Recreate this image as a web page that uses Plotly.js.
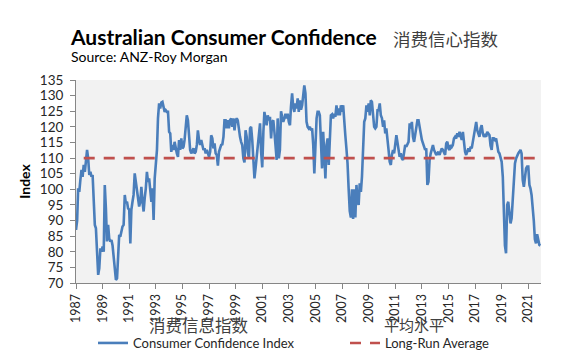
<!DOCTYPE html>
<html><head><meta charset="utf-8">
<script src="https://cdn.plot.ly/plotly-3.0.1.min.js"></script>
<style>html,body{margin:0;padding:0;background:#fff}#chart{width:566px;height:356px}</style>
</head><body><div id="chart"></div>
<script>
// ---- text ----
const titleEn = 'Australian Consumer Confidence';
const titleZh = '消费信心指数';
const sourceText = 'Source: ANZ-Roy Morgan';
const yAxisTitle = 'Index';
const seriesName = 'Consumer Confidence Index';
const seriesNameZh = '消费信息指数';
const averageName = 'Long-Run Average';
const averageNameZh = '平均水平';

// ---- data: monthly index, starting January 1987 ----
const firstYear = 1987;
const cci_1987_1993 = [87,90,100.3,99.2,103,106.2,104,107.8,105.6,109.4,112.6,109.9,
  104.6,105.6,104,104.6,95,88.6,87.5,79,72.6,74.7,81.1,80.1,
  81.7,80,101.4,93.9,83.3,88.6,84.3,83.3,83.8,82,78,73,
  71,71.5,77.9,85.4,84.8,87,88.1,88.6,98.2,95.5,96,93.9,
  93.5,82.7,93.4,96,98.2,105.1,102.4,99.2,97.1,94.5,96,100.8,
  96,92.9,97.1,100.3,105.6,102.4,103.5,99.8,96,100.3,90.2,103.5,
  108.8,112.6,122.7,127.5,125.9,127.8,128,126.4,124.8,125.3,124.8,124.8];
const cci_1994_2000 = [118.4,117.9,112,114.2,112.6,115.2,113.1,111.5,110.4,115.8,112.6,116.3,
  113.1,113.6,115.8,121,123.7,122.1,116,112.6,111.5,112.6,113.1,111.5,
  112,114.2,118.9,115.8,114.2,115.8,114.2,112.6,113.1,111.5,112.6,111.5,
  110.4,112,117.3,116.3,113.1,114.7,111.5,111,107.6,112,113.6,114.2,
  114.4,116.8,122.1,122.1,119.5,122.1,119.5,122.1,122.7,120,122.7,118.9,
  122.1,122.7,122.1,118.4,116.8,115.2,114.2,109.9,108.6,118.9,116.8,112,
  109.9,119.5,120,115.8,109.9,103.5,106.7,109.9,113.1,118,121.1,112];
const cci_2001_2007 = [107,118.4,124.8,122.7,120.5,123.7,122.1,123.2,116.3,121.6,122.1,118.4,
  114.2,109.4,122.7,109.9,112.6,125,123.2,121.6,122.7,124.2,122.7,124.2,
  121.6,120.5,126.5,130.7,126.4,124.8,127.5,125.9,129.1,124.8,128.5,125.5,
  126.9,130.7,133.3,130.7,121.6,120,119.5,120,118.9,119.5,114.2,105.1,
  114.2,122.7,124.8,124.8,123.7,117,106.7,118.4,108.8,103.5,114.2,116.3,
  107.8,114.7,123.7,124,122.7,124.2,123.2,126.9,123.7,125.9,123.7,126.9,
  124.8,126.9,121,117.3,113.1,108.3,100.3,93,91,100,90.5,100];
const cci_2008_2014 = [91,101.4,96,95,101.9,99.2,104,116.3,121.6,122.7,126.9,124.8,
  127.5,123.7,128.5,128,123.7,120,119.5,120,125.3,125.3,127.5,123.7,
  122.7,120,122.1,117.9,119.5,116.8,112.6,108.8,107.8,111,112.6,111.5,
  114.2,117.3,115.2,112.6,110.4,111.5,109.9,109.4,113.1,114.2,113.6,114.7,
  115.2,121.1,119.5,121.6,116.8,115.2,117.3,120,122.1,122.1,120.5,117.9,
  115.8,114.7,113.1,112.6,113.1,101.4,102.4,109.4,111.5,112.6,114.2,112.6,
  111.5,111,111.5,112,111,112.6,113.1,112.6,112,111,114.7,115.2];
const cci_2015_2021 = [113.1,112.6,114.2,113.6,114.2,116.3,116.8,116.3,117.9,116.8,118.4,117.3,
  115.8,118.4,114,112,111,112.6,113.1,112,113.6,113.1,115.2,116.8,
  119.5,121.6,118.9,117.3,116.8,119.5,120.5,117.9,116.8,117.3,116.8,118.4,
  117.9,117.3,114,112.6,116.3,116.3,115.8,116.3,114.2,112,111.5,110.4,
  108.8,104,93,82,79.5,95,96,92.9,89.1,90.7,98,103,
  108.3,109.9,111,111.5,112,112.6,111.5,103,100.8,103,106.7,107.3,
  107.3,101.4,100.3,98.2,94.5,90,84,82.7,85.6,83.3,82.2,82];
const longRunAverage = [110, 110];
const averageDates = ['1987-08-01', '2021-08-01'];
const yTicks = [70,75,80,85,90,95,100,105,110,115,120,125,130,135];
const xTickYears = [1987,1989,1991,1993,1995,1997,1999,2001,2003,2005,2007,2009,2011,2013,2015,2017,2019,2021];

// ---- build ----
const cci = [].concat(cci_1987_1993, cci_1994_2000, cci_2001_2007, cci_2008_2014, cci_2015_2021);
const months = cci.map((_, i) => {
  const y = firstYear + Math.floor(i / 12), m = (i % 12) + 1;
  return y + '-' + String(m).padStart(2, '0') + '-01';
});

const W = 566, H = 356;
const M = {l: 76, r: 25, t: 80, b: 73, autoexpand: false};
const PW = W - M.l - M.r, PH = H - M.t - M.b;
const px = x => (x - M.l) / PW;          // pixel -> paper x
const py = y => (H - M.b - y) / PH;      // pixel -> paper y
const FONT = 'Lato, "Liberation Sans", sans-serif';
const CJK = '"Noto Sans CJK SC", sans-serif';

const traces = [
  {x: months, y: cci, name: seriesName, type: 'scatter', mode: 'lines', legend: 'legend',
   line: {color: '#4a7ebb', width: 2.6}, hoverinfo: 'skip'},
  {x: averageDates, y: longRunAverage, name: averageName, type: 'scatter', mode: 'lines', legend: 'legend2',
   line: {color: '#c0504d', width: 2.6, dash: '11px,9px'}, hoverinfo: 'skip'}
];

const legendBase = {orientation: 'h', xref: 'container', yref: 'container', xanchor: 'left',
  y: 1 - 343 / H, yanchor: 'middle', bgcolor: 'rgba(0,0,0,0)',
  font: {family: FONT, size: 13, color: '#262626'}};

const layout = {
  width: W, height: H, margin: M,
  paper_bgcolor: '#ffffff', plot_bgcolor: '#f2f2f2',
  font: {family: FONT, color: '#262626'},
  title: {text: titleEn, font: {family: FONT, size: 21, weight: 'bold', color: '#000'},
          x: 71 / W, xanchor: 'left', xref: 'container', y: 1 - 37.5 / H, yanchor: 'middle'},
  xaxis: {type: 'date', range: ['1987-01-01', '2021-12-16'],
          tickvals: xTickYears.map(y => y + '-01-01'), ticktext: xTickYears.map(String),
          tickangle: -90, ticks: 'outside', ticklen: 5, tickcolor: '#868686',
          showline: true, linecolor: '#868686', linewidth: 1, showgrid: false, zeroline: false,
          tickfont: {family: FONT, size: 12.5, color: '#262626'}},
  yaxis: {range: [70, 135], tickvals: yTicks, ticks: 'outside', ticklen: 5, tickcolor: '#868686',
          showline: true, linecolor: '#868686', linewidth: 1, showgrid: false, zeroline: false,
          ticklabelstandoff: 4,
          tickfont: {family: FONT, size: 13.5, color: '#262626'},
          title: {text: yAxisTitle, font: {family: FONT, size: 14, weight: 'bold', color: '#000'}, standoff: 5}},
  showlegend: true,
  legend: Object.assign({}, legendBase, {x: 93 / W}),
  legend2: Object.assign({}, legendBase, {x: 345 / W}),
  annotations: [
    {text: titleZh, xref: 'paper', yref: 'paper', x: px(391), y: py(38.5), xanchor: 'left', yanchor: 'middle',
     showarrow: false, font: {family: CJK, size: 17.5, color: '#404040'}},
    {text: sourceText, xref: 'paper', yref: 'paper', x: px(69), y: py(56.5), xanchor: 'left', yanchor: 'middle',
     showarrow: false, font: {family: FONT, size: 14, color: '#000'}},
    {text: seriesNameZh, xref: 'paper', yref: 'paper', x: px(148), y: py(324.5), xanchor: 'left', yanchor: 'middle',
     showarrow: false, borderpad: 0, font: {family: CJK, size: 16.5, color: '#404040'}},
    {text: averageNameZh, xref: 'paper', yref: 'paper', x: px(383), y: py(324.5), xanchor: 'left', yanchor: 'middle',
     showarrow: false, borderpad: 0, font: {family: CJK, size: 15, color: '#404040'}}
  ]
};

Plotly.newPlot('chart', traces, layout, {staticPlot: true, displayModeBar: false});
</script>
</body></html>
